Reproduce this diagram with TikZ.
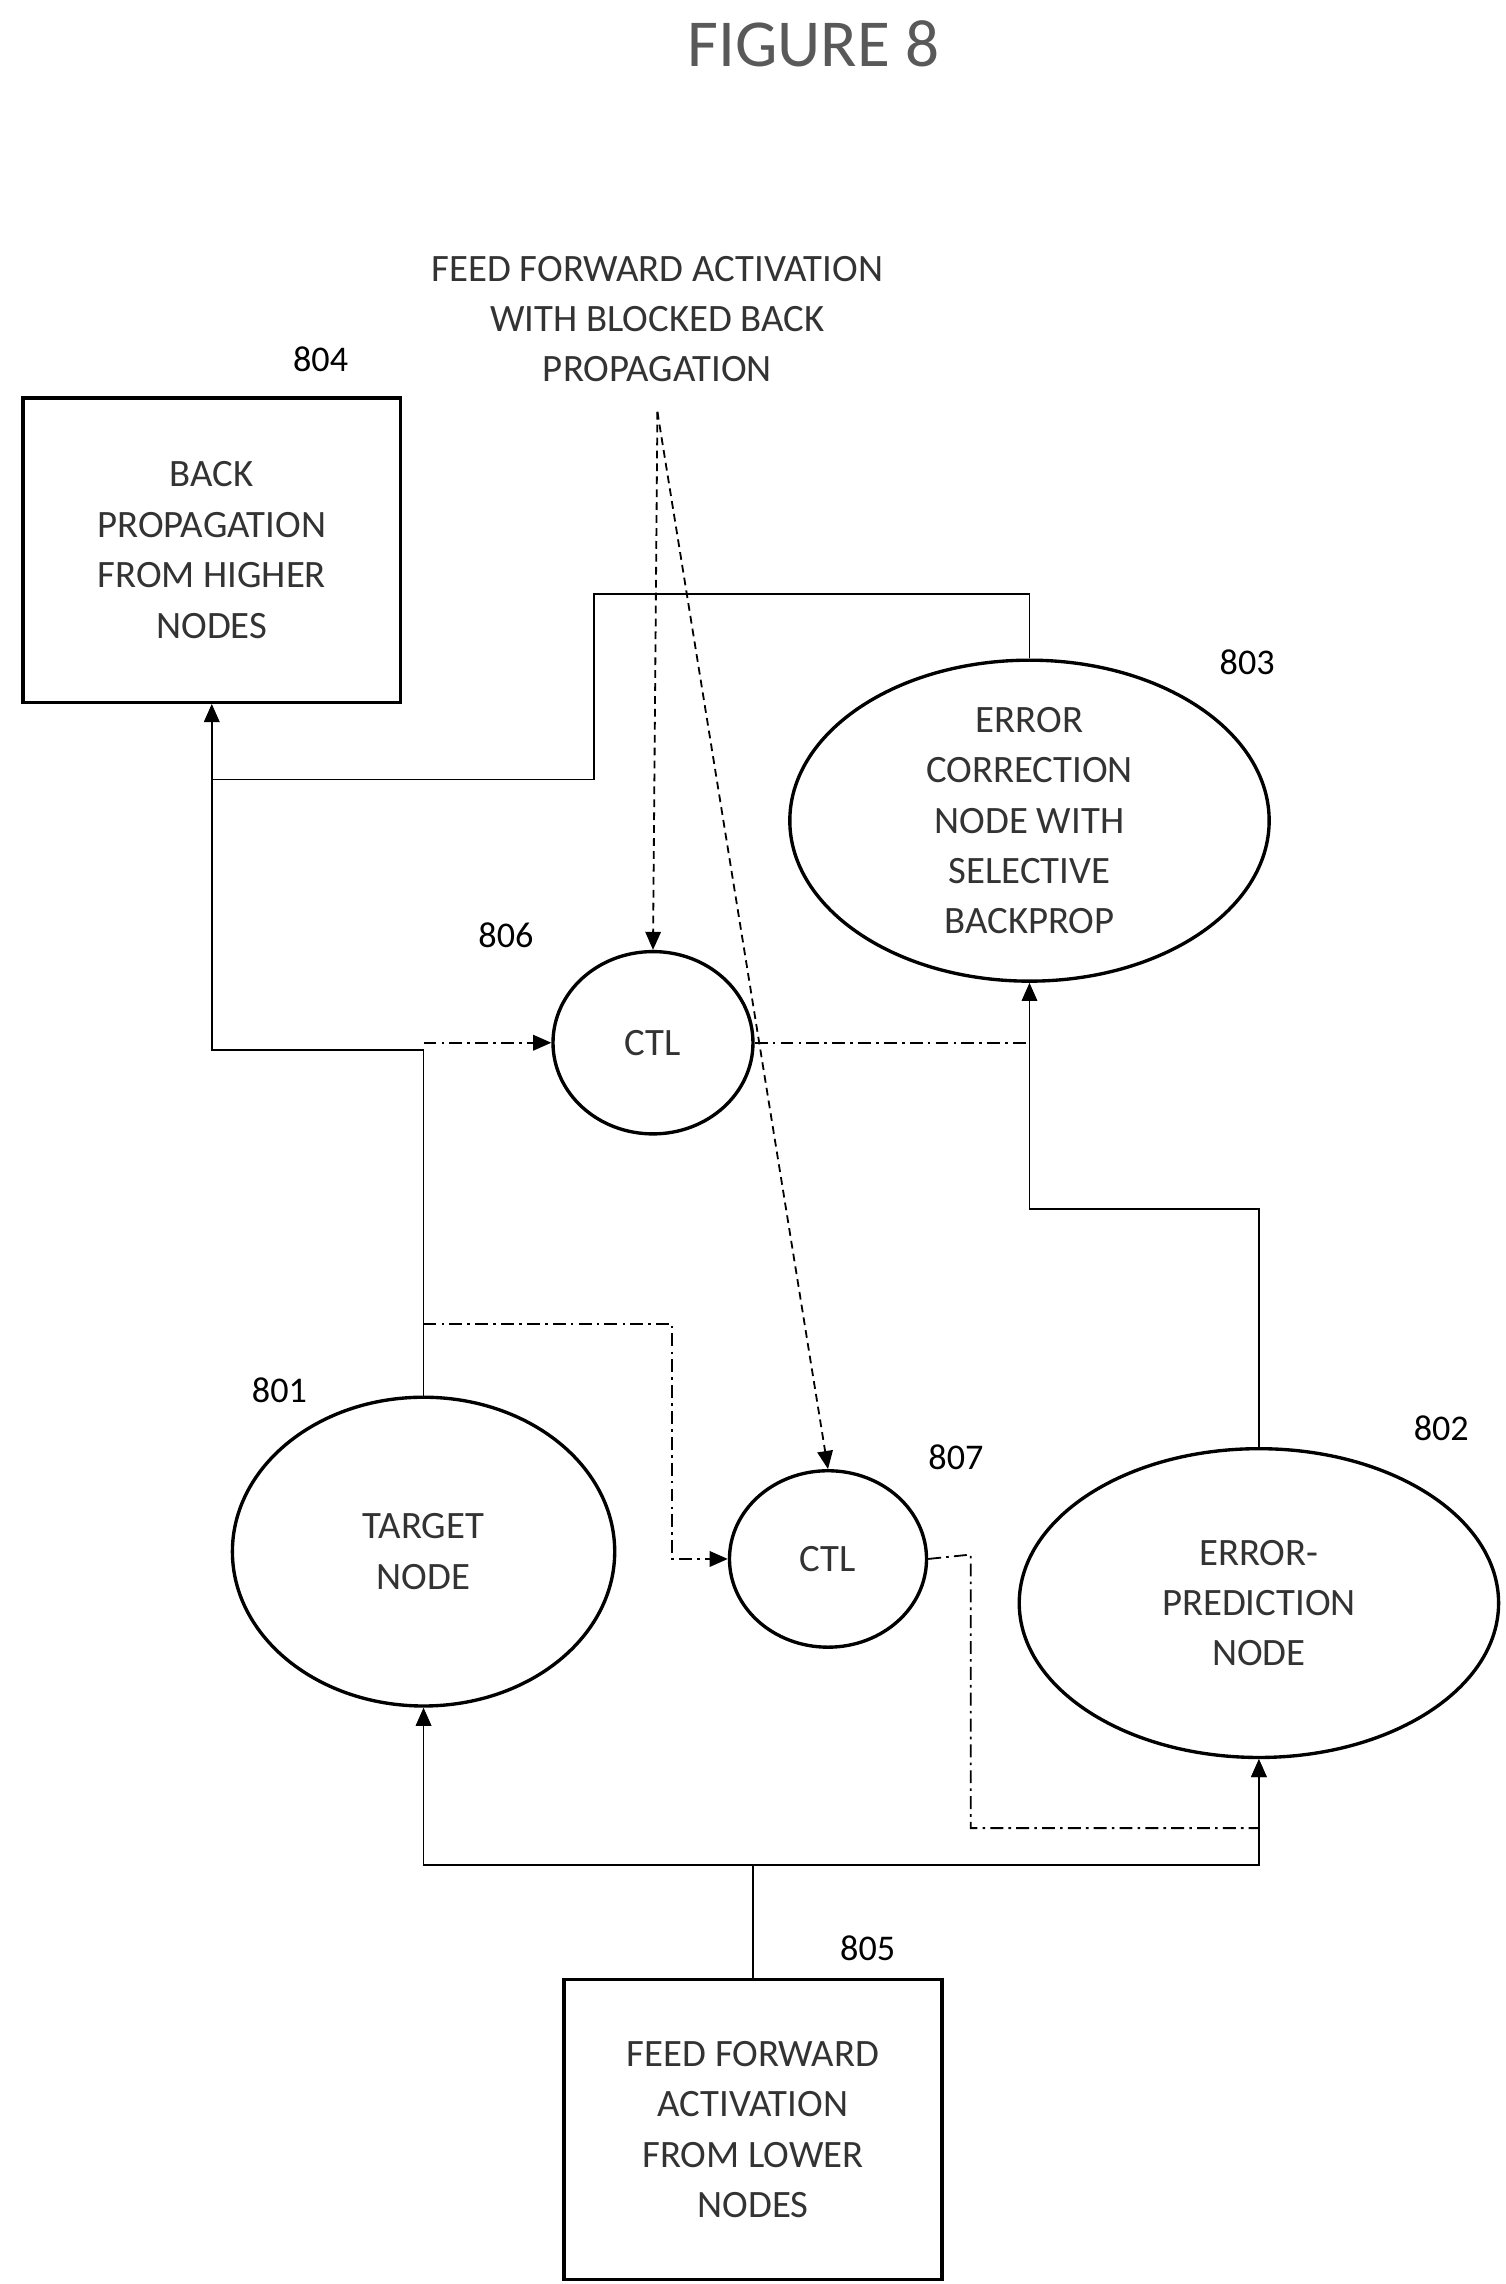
\documentclass[tikz,border=0pt]{standalone}
\usepackage{fontspec}
\setmainfont{Carlito}
\usetikzlibrary{arrows.meta,shapes.geometric}
\begin{document}
\begin{tikzpicture}[x=0.02cm,y=-0.02cm,
  txt/.style={font=\fontsize{15}{19.5}\selectfont\color{black!80},align=center},
  box/.style={draw,line width=1.3pt,rectangle,txt,inner sep=0pt},
  ell/.style={draw,line width=1.3pt,ellipse,txt,inner sep=0pt},
  lab/.style={font=\fontsize{14}{17}\selectfont},
  ar/.style={-{Triangle[length=7pt,width=6pt]}},
  solid line/.style={line width=0.7pt},
  dd/.style={line width=0.7pt,dash pattern=on 5pt off 2pt on 1pt off 2pt},
  dsh/.style={line width=0.7pt,dash pattern=on 3pt off 2pt}]
\useasboundingbox (0,0) rectangle (1024,1553);
\node[font=\fontsize{26}{30}\selectfont\color{black!65}] (title) at (553,30) {FIGURE 8};
\node[txt] (top) at (447,217) {FEED FORWARD ACTIVATION\\WITH BLOCKED BACK\\PROPAGATION};
\coordinate (src) at (447,280);

\node[box,minimum width=5.14cm,minimum height=4.14cm] (b804) at (144,374) {BACK\\PROPAGATION\\FROM HIGHER\\NODES};
\node[lab] (l804) at (218,244) {804};

\node[box,minimum width=5.14cm,minimum height=4.08cm] (b805) at (512,1448) {FEED FORWARD\\ACTIVATION\\FROM LOWER\\NODES};
\node[lab] (l805) at (590,1325) {805};

\node[ell,minimum width=6.52cm,minimum height=4cm] (e803) at (700,558) {ERROR\\CORRECTION\\NODE WITH\\SELECTIVE\\BACKPROP};
\node[lab] (l803) at (848,450) {803};
\node[ell,minimum width=2.72cm,minimum height=2.48cm] (c806) at (444,709) {CTL};
\node[lab] (l806) at (344,636) {806};
\node[ell,minimum width=5.2cm,minimum height=4.2cm] (e801) at (288,1055) {TARGET\\NODE};
\node[lab] (l801) at (190,945) {801};
\node[ell,minimum width=2.68cm,minimum height=2.4cm] (c807) at (563,1060) {CTL};
\node[lab] (l807) at (650,991) {807};
\node[ell,minimum width=6.52cm,minimum height=4.2cm] (e802) at (856,1090) {ERROR-\\PREDICTION\\NODE};
\node[lab] (l802) at (980,971) {802};

% solid connectors
\draw[solid line,ar] (e801.north) -- (288,714) -- (144,714) -- (b804.south);
\draw[solid line] (e803.north) -- (700,404) -- (404,404) -- (404,530) -- (144,530);
\draw[solid line,ar] (e802.north) -- (856,822) -- (700,822) -- (e803.south);
\draw[solid line,ar] (b805.north) -- (512,1268) -- (288,1268) -- (e801.south);
\draw[solid line,ar] (512,1268) -- (856,1268) -- (e802.south);
% dash-dot
\draw[dd,ar] (288,709) -- (c806.west);
\draw[dd] (c806.east) -- (700,709);
\draw[dd,ar] (288,900) -- (457,900) -- (457,1060) -- (c807.west);
\draw[dd,ar] (c807.east) -- (660,1057) -- (660,1243) -- (856,1243) -- (e802.south);
% dashed from label
\draw[dsh,ar] (src) -- (c806.north);
\draw[dsh,ar] (src) -- (c807.north);
\end{tikzpicture}
\end{document}
